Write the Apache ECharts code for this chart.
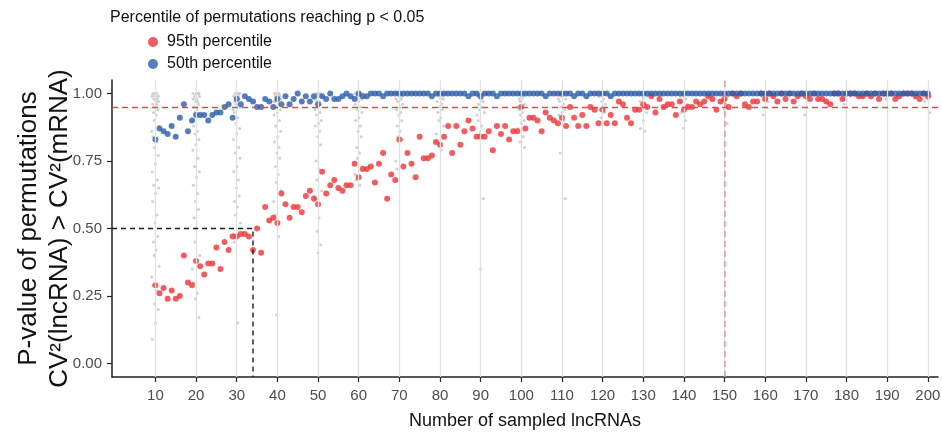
<!DOCTYPE html>
<html><head><meta charset="utf-8">
<script src="https://cdn.jsdelivr.net/npm/echarts@6/dist/echarts.min.js"></script>
<style>html,body{margin:0;padding:0;background:#fff}#c{width:942px;height:434px}</style>
</head><body><div id="c"></div>
<script>
// Number of sampled lncRNAs (x values)
const sampledLncRNAs = [
10,11,12,13,14,15,16,17,18,19,20,21,22,23,24,25,26,27,28,29,
30,31,32,33,34,35,36,37,38,39,40,41,42,43,44,45,46,47,48,49,
50,51,52,53,54,55,56,57,58,59,60,61,62,63,64,65,66,67,68,69,
70,71,72,73,74,75,76,77,78,79,80,81,82,83,84,85,86,87,88,89,
90,91,92,93,94,95,96,97,98,99,100,101,102,103,104,105,106,107,108,109,
110,111,112,113,114,115,116,117,118,119,120,121,122,123,124,125,126,127,128,129,
130,131,132,133,134,135,136,137,138,139,140,141,142,143,144,145,146,147,148,149,
150,151,152,153,154,155,156,157,158,159,160,161,162,163,164,165,166,167,168,169,
170,171,172,173,174,175,176,177,178,179,180,181,182,183,184,185,186,187,188,189,
190,191,192,193,194,195,196,197,198,199,200];

// 95th percentile p-values
const p95 = [
0.29,0.26,0.28,0.24,0.27,0.24,0.25,0.40,0.30,0.29,
0.38,0.36,0.33,0.37,0.37,0.43,0.35,0.45,0.42,0.47,
0.47,0.48,0.48,0.47,0.42,0.50,0.41,0.58,0.53,0.54,
0.52,0.63,0.59,0.54,0.58,0.58,0.56,0.62,0.64,0.61,
0.59,0.71,0.63,0.66,0.68,0.65,0.64,0.66,0.66,0.74,
0.69,0.72,0.72,0.73,0.67,0.74,0.78,0.61,0.70,0.68,
0.83,0.73,0.78,0.74,0.69,0.84,0.76,0.76,0.77,0.82,
0.81,0.84,0.88,0.78,0.88,0.81,0.86,0.90,0.87,0.84,
0.84,0.84,0.86,0.79,0.88,0.85,0.88,0.83,0.86,0.86,
0.95,0.87,0.91,0.91,0.90,0.86,0.93,0.91,0.90,0.89,
0.91,0.88,0.95,0.91,0.88,0.92,0.88,0.95,0.94,0.89,
0.94,0.89,0.92,0.89,0.97,0.96,0.91,0.89,0.94,0.94,
0.96,0.95,0.99,0.93,0.98,0.95,0.96,0.96,0.92,0.97,
0.94,0.95,0.95,0.97,0.96,0.97,0.99,0.98,0.94,0.97,
0.98,0.95,1.00,0.99,1.00,0.96,0.95,0.97,0.97,1.00,
0.98,1.00,0.99,0.97,1.00,0.98,1.00,0.97,0.99,1.00,
0.99,0.98,1.00,0.98,0.98,0.97,0.96,1.00,1.00,0.98,
1.00,1.00,1.00,0.99,0.99,1.00,0.99,1.00,0.98,1.00,
1.00,1.00,0.98,0.99,1.00,1.00,1.00,0.99,0.98,1.00,
0.99];

// 50th percentile p-values
const p50 = [
0.83,0.87,0.86,0.85,0.88,0.84,0.91,0.96,0.86,0.90,
0.92,0.92,0.92,0.90,0.92,0.93,0.93,0.95,0.96,0.91,
0.98,0.96,0.99,0.98,0.97,0.95,0.95,0.98,0.97,0.95,
0.98,0.96,0.99,0.96,0.98,1.00,0.97,0.99,0.97,0.99,
0.96,0.99,0.98,1.00,0.98,0.98,0.99,1.00,0.99,0.98,
1.00,0.99,0.99,1.00,1.00,1.00,0.99,1.00,1.00,1.00,
1.00,1.00,1.00,1.00,1.00,1.00,1.00,1.00,0.99,1.00,
1.00,1.00,1.00,1.00,1.00,1.00,1.00,0.99,1.00,1.00,
0.99,1.00,1.00,1.00,0.99,1.00,1.00,1.00,1.00,1.00,
1.00,1.00,1.00,1.00,1.00,1.00,0.99,1.00,1.00,1.00,
1.00,1.00,1.00,0.99,1.00,1.00,0.99,1.00,1.00,1.00,
1.00,1.00,0.99,1.00,1.00,1.00,1.00,1.00,1.00,1.00,
1.00,1.00,1.00,1.00,1.00,1.00,1.00,1.00,1.00,1.00,
1.00,1.00,1.00,1.00,1.00,1.00,1.00,1.00,1.00,1.00,
1.00,1.00,1.00,1.00,1.00,1.00,1.00,1.00,1.00,1.00,
1.00,1.00,1.00,1.00,1.00,1.00,1.00,1.00,1.00,1.00,
1.00,1.00,1.00,1.00,1.00,1.00,1.00,1.00,1.00,1.00,
1.00,1.00,1.00,1.00,1.00,1.00,1.00,1.00,1.00,1.00,
1.00,1.00,1.00,1.00,1.00,1.00,1.00,1.00,1.00,1.00,
1.00];

// Tick labels
const xTicks = [10,20,30,40,50,60,70,80,90,100,110,120,130,140,150,160,170,180,190,200];
const yTicks = [0, 0.25, 0.5, 0.75, 1];

// Individual permutation p-values (grey) per sampled size
const permSizes = [10,20,30,40,50,60,70,80,90,100,110,120,130,140,150,160,170,180,190,200];
const permValues = [
 [1,1,1,0.99,0.99,0.99,0.98,0.98,0.97,0.97,0.96,0.96,0.95,0.94,0.93,0.92,0.9,0.88,0.86,0.84,0.82,0.8,0.77,0.74,0.71,0.68,0.66,0.65,0.63,0.6,0.55,0.52,0.47,0.45,0.42,0.4,0.36,0.32,0.29,0.27,0.22,0.2,0.15,0.09],
 [1,1,1,1,0.99,0.99,0.98,0.98,0.97,0.97,0.96,0.95,0.94,0.93,0.92,0.9,0.88,0.86,0.85,0.83,0.81,0.79,0.76,0.73,0.71,0.69,0.66,0.63,0.6,0.57,0.54,0.5,0.45,0.4,0.35,0.3,0.26,0.24,0.17],
 [1,1,1,1,0.99,0.99,0.98,0.98,0.97,0.96,0.96,0.95,0.94,0.93,0.91,0.89,0.87,0.85,0.83,0.8,0.78,0.76,0.73,0.71,0.68,0.65,0.62,0.6,0.58,0.55,0.52,0.48,0.45,0.15],
 [1,1,1,1,0.99,0.99,0.99,0.98,0.98,0.97,0.97,0.96,0.95,0.94,0.93,0.92,0.9,0.88,0.86,0.84,0.82,0.8,0.78,0.76,0.73,0.7,0.67,0.64,0.6,0.55,0.47,0.18],
 [1,1,1,1,0.99,0.99,0.98,0.98,0.97,0.97,0.96,0.95,0.94,0.93,0.92,0.9,0.89,0.88,0.86,0.84,0.81,0.75,0.72,0.68,0.64,0.62,0.61,0.54,0.49,0.44,0.41],
 [1,1,1,1,0.99,0.99,0.98,0.98,0.97,0.96,0.95,0.94,0.93,0.91,0.9,0.88,0.86,0.84,0.8,0.78,0.76,0.73,0.7,0.68,0.66],
 [1,1,1,1,0.99,0.99,0.98,0.98,0.97,0.96,0.95,0.94,0.93,0.92,0.9,0.88,0.86,0.84,0.83,0.75,0.72],
 [1,1,1,1,0.99,0.99,0.98,0.98,0.97,0.96,0.95,0.94,0.93,0.91,0.9,0.88,0.85,0.82,0.79],
 [1,1,1,1,0.99,0.99,0.98,0.98,0.97,0.96,0.95,0.94,0.93,0.92,0.9,0.88,0.85,0.61,0.35],
 [1,1,1,1,0.99,0.99,0.98,0.98,0.97,0.96,0.95,0.94,0.93,0.92,0.9,0.89,0.87,0.84,0.82,0.8],
 [1,1,1,1,0.99,0.99,0.98,0.98,0.97,0.96,0.95,0.94,0.93,0.92,0.9,0.78,0.61],
 [1,1,1,1,0.99,0.99,0.98,0.97,0.96,0.95,0.94,0.93,0.91],
 [1,1,1,1,0.99,0.99,0.98,0.97,0.96,0.95,0.93,0.9,0.87,0.86],
 [1,1,1,0.99,0.99,0.98,0.97,0.96,0.95,0.93,0.9,0.87],
 [1,1,1,0.99,0.99,0.98,0.97,0.96,0.94,0.89],
 [1,1,1,0.99,0.99,0.98,0.97,0.92],
 [1,1,1,0.99,0.99,0.98,0.92],
 [1,1,1,0.99,0.99,0.98,0.96],
 [1,1,1,0.99,0.99,0.98],
 [1,1,1,0.99,0.98,0.97,0.93]
];

// Reference thresholds
const pThreshold = 0.95;
const highlightSize = 150;
const halfLevel = 0.5;
const halfSize = 34;

// style: horizontal jitter pattern for grey permutation dots (display only)
const JITTER = [-0.6,0.3,-0.2,0.7,0.0,-0.8,0.5,-0.4,0.8,0.1,-0.7,0.4,-0.1,0.6,-0.5,0.2,-0.3,0.9,-0.9];

const X_MIN = -0.68, X_MAX = 202.5, Y_MIN = -0.05, Y_MAX = 1.05;
const FONT = "'Liberation Sans', Arial, sans-serif";

const greyData = [];
permSizes.forEach((s, ci) => {
  permValues[ci].forEach((v, i) => greyData.push([s + JITTER[(i + ci * 3) % JITTER.length], v]));
});
const redData = sampledLncRNAs.map((n, i) => [n, p95[i]]);
const blueData = sampledLncRNAs.map((n, i) => [n, p50[i]]);

const chart = echarts.init(document.getElementById('c'), null, {renderer: 'canvas'});
chart.setOption({
  animation: false,
  backgroundColor: '#ffffff',
  textStyle: {fontFamily: FONT},
  title: {
    text: 'Percentile of permutations reaching p < 0.05',
    left: 105, top: 5,
    textStyle: {fontSize: 16, fontWeight: 'normal', color: '#111', fontFamily: FONT}
  },
  legend: {
    orient: 'vertical', left: 148, top: 33, padding: 0,
    itemWidth: 10, itemHeight: 10, itemGap: 4, icon: 'circle',
    data: ['95th percentile', '50th percentile'],
    textStyle: {fontSize: 16, color: '#111', fontFamily: FONT, padding: [0, 0, 0, 4], lineHeight: 18}
  },
  grid: {left: 112, right: 4, top: 80, bottom: 57, containLabel: false, outerBoundsMode: 'none'},
  xAxis: {
    type: 'value', min: X_MIN, max: X_MAX,
    axisLine: {show: true, onZero: false, lineStyle: {color: '#222', width: 1.5}},
    axisTick: {show: true, customValues: xTicks, length: 5, lineStyle: {color: '#222', width: 1.2}},
    axisLabel: {customValues: xTicks, color: '#4d4d4d', fontSize: 15, margin: 11, fontFamily: FONT},
    splitLine: {show: false},
    name: 'Number of sampled lncRNAs', nameLocation: 'middle', nameGap: 35, nameMoveOverlap: false,
    nameTextStyle: {fontSize: 18, color: '#111', fontFamily: FONT}
  },
  yAxis: {
    type: 'value', min: Y_MIN, max: Y_MAX,
    axisLine: {show: true, onZero: false, lineStyle: {color: '#222', width: 1.5}},
    axisTick: {show: true, customValues: yTicks, length: 5, lineStyle: {color: '#222', width: 1.2}},
    axisLabel: {customValues: yTicks, color: '#4d4d4d', fontSize: 15, margin: 10, fontFamily: FONT,
      formatter: v => v.toFixed(2)},
    splitLine: {show: false},
    name: 'P-value of permutations\nCV²(lncRNA) > CV²(mRNA)', nameLocation: 'middle', nameRotate: 90,
    nameGap: 37, nameMoveOverlap: false,
    nameTextStyle: {fontSize: 26, color: '#111', lineHeight: 31, fontFamily: FONT}
  },
  series: [
    {
      type: 'line', data: [], silent: true, z: 0,
      markLine: {
        silent: true, symbol: ['none', 'none'], label: {show: false},
        lineStyle: {color: '#e0e0e0', width: 1.3, type: 'solid'},
        data: xTicks.map(v => ({xAxis: v}))
      }
    },
    {
      type: 'scatter', data: greyData, symbolSize: 3, silent: true, z: 1,
      itemStyle: {color: '#c4c4c4'}
    },
    {
      type: 'line', data: [], silent: true, z: 2,
      markLine: {
        silent: true, symbol: ['none', 'none'], label: {show: false},
        data: [
          {yAxis: pThreshold, lineStyle: {color: '#e8474a', width: 1.3, type: [6, 4]}},
          {xAxis: highlightSize, lineStyle: {color: 'rgba(225,120,120,0.6)', width: 1.8, type: [6, 4]}}
        ]
      }
    },
    {
      name: '95th percentile', type: 'scatter', data: redData, symbolSize: 6, z: 3,
      itemStyle: {color: '#ee3536'}
    },
    {
      name: '50th percentile', type: 'scatter', data: blueData, symbolSize: 6, z: 4,
      itemStyle: {color: '#2a5caa'}
    },
    {
      type: 'line', silent: true, z: 5, symbol: 'none',
      data: [[X_MIN, halfLevel], [halfSize, halfLevel], [halfSize, Y_MIN]],
      lineStyle: {color: '#1a1a1a', width: 1.4, type: [5, 4]}
    }
  ]
});
</script>
</body></html>
